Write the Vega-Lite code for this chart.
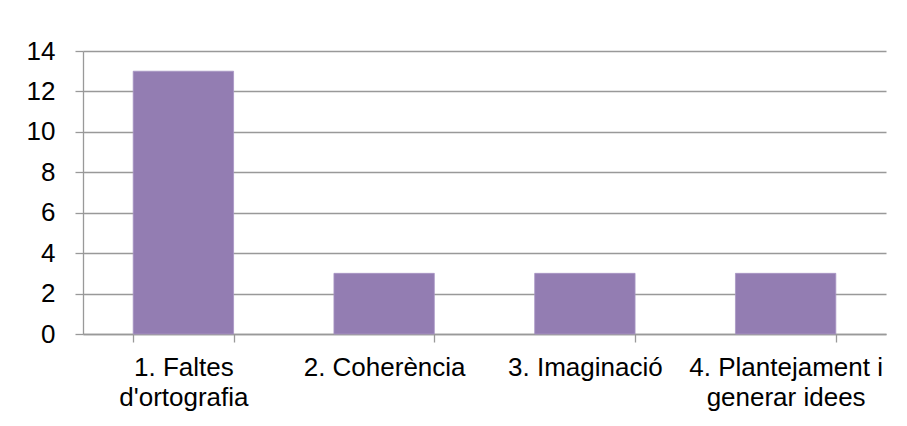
{
  "$schema": "https://vega.github.io/schema/vega-lite/v6.json",
  "width": 803,
  "height": 283,
  "autosize": {"type": "none"},
  "padding": {"left": 83, "top": 51, "right": 21, "bottom": 92},
  "background": "white",
  "config": {
    "view": {"stroke": null},
    "font": "Liberation Sans",
    "axis": {
      "labelFont": "Liberation Sans",
      "labelColor": "#000000",
      "labelFontSize": 26,
      "labelLimit": 0,
      "domainColor": "#999999",
      "tickColor": "#999999",
      "gridColor": "#999999",
      "domainWidth": 1.3,
      "tickWidth": 1.3,
      "gridWidth": 1.3
    }
  },
  "data": {
    "values": [
      {"categoria": "1. Faltes|d'ortografia", "valor": 13},
      {"categoria": "2. Coherència", "valor": 3},
      {"categoria": "3. Imaginació", "valor": 3},
      {"categoria": "4. Plantejament i|generar idees", "valor": 3}
    ]
  },
  "mark": {"type": "bar", "color": "#937DB2", "stroke": "#A896C4", "strokeWidth": 0.8},
  "encoding": {
    "x": {
      "field": "categoria",
      "type": "nominal",
      "sort": null,
      "scale": {"paddingInner": 0.5, "paddingOuter": 0.25},
      "axis": {
        "title": null,
        "labelAngle": 0,
        "labelExpr": "split(datum.label, '|')",
        "labelLineHeight": 30,
        "labelBaseline": "top",
        "labelPadding": 12,
        "labelLimit": 0,
        "tickSize": 8,
        "tickBand": "extent",
        "grid": false
      }
    },
    "y": {
      "field": "valor",
      "type": "quantitative",
      "scale": {"domain": [0, 14], "nice": false},
      "axis": {
        "title": null,
        "values": [0, 2, 4, 6, 8, 10, 12, 14],
        "tickSize": 8,
        "labelPadding": 20,
        "grid": true
      }
    }
  }
}
